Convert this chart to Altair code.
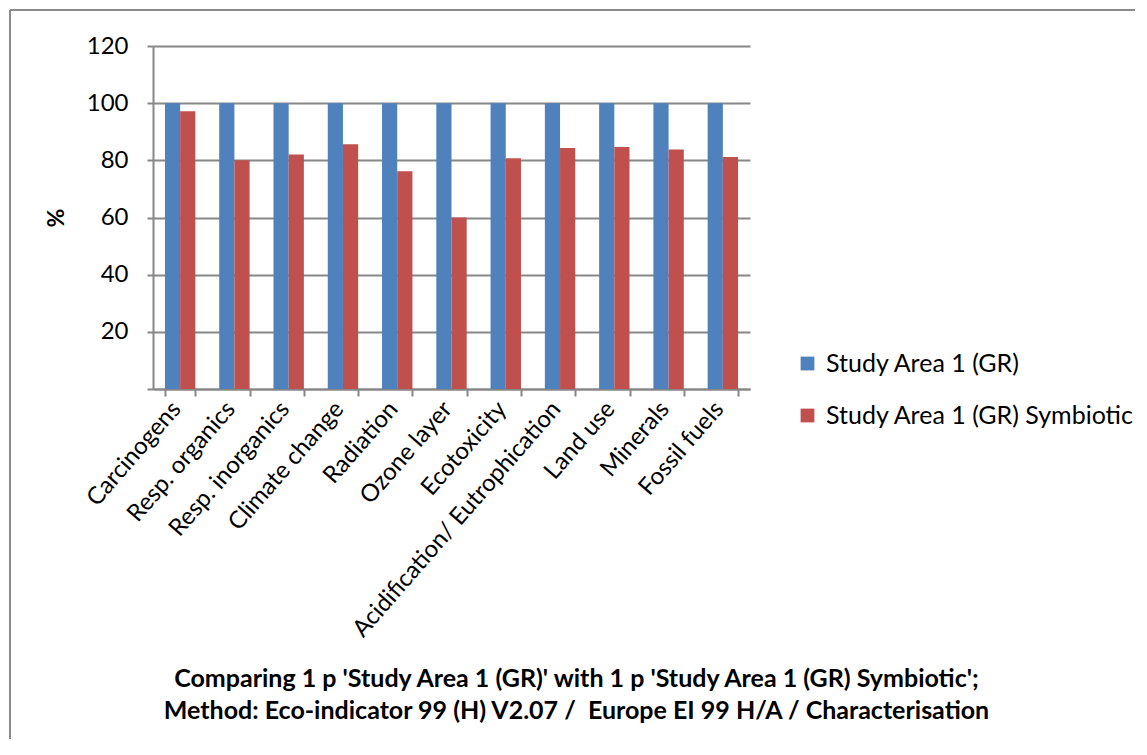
import altair as alt
import pandas as pd

categories = ["Carcinogens", "Resp. organics", "Resp. inorganics", "Climate change",
              "Radiation", "Ozone layer", "Ecotoxicity", "Acidification/ Eutrophication",
              "Land use", "Minerals", "Fossil fuels"]
series_names = ["Study Area 1 (GR)", "Study Area 1 (GR) Symbiotic"]
base_values = [100, 100, 100, 100, 100, 100, 100, 100, 100, 100, 100]
symb_values = [97.2, 80.0, 82.0, 85.6, 76.2, 60.0, 80.7, 84.3, 84.7, 83.8, 81.2]
colors = ["#4F81BD", "#C0504D"]

rows = []
for c, a, b in zip(categories, base_values, symb_values):
    rows.append({"cat": c, "series": series_names[0], "val": a})
    rows.append({"cat": c, "series": series_names[1], "val": b})
df = pd.DataFrame(rows)

GRID = "#878787"
FONT = "Lato"

bars = alt.Chart(df).mark_bar().encode(
    x=alt.X("cat:N", sort=categories,
            scale=alt.Scale(paddingInner=0.44, paddingOuter=0.22),
            axis=alt.Axis(title=None, labelAngle=-49, labelAlign="right", labelBaseline="top",
                          labelFontSize=24, labelColor="black", labelLimit=500,
                          labelFont=FONT, tickBand="extent", tickSize=7, tickColor=GRID,
                          tickWidth=2, domainColor=GRID, domainWidth=2, labelPadding=1,
                          labelOffset=-13, grid=False)),
    xOffset=alt.XOffset("series:N", sort=series_names,
                        scale=alt.Scale(paddingInner=0, paddingOuter=0)),
    y=alt.Y("val:Q", scale=alt.Scale(domain=[0, 120], nice=False),
            axis=alt.Axis(title="%", titleFontSize=23, titleFont=FONT, titleColor="black",
                          titleFontWeight="bold", titleAngle=-90, titlePadding=18,
                          values=[0, 20, 40, 60, 80, 100, 120],
                          labelExpr="datum.value == 0 ? '' : datum.label",
                          labelFontSize=24, labelFont=FONT, labelColor="black",
                          labelPadding=19, tickSize=6, tickColor=GRID, tickWidth=2,
                          gridColor=GRID, gridWidth=2, domainColor=GRID, domainWidth=2)),
    color=alt.Color("series:N", sort=series_names,
                    scale=alt.Scale(domain=series_names, range=colors),
                    legend=alt.Legend(title=None, orient="none", legendX=642, legendY=305,
                                      symbolType="square", symbolSize=190,
                                      symbolStrokeWidth=0, labelFontSize=25, labelLimit=500,
                                      labelFont=FONT, labelColor="black", rowPadding=26,
                                      labelOffset=6)),
)

frame_df = pd.DataFrame({"k": [0]})
frame_top = alt.Chart(frame_df).mark_rule(color="#8a8a8a", strokeWidth=2).encode(
    x=alt.value(-143), x2=alt.value(990), y=alt.value(-36)
)
frame_left = alt.Chart(frame_df).mark_rule(color="#8a8a8a", strokeWidth=2).encode(
    x=alt.value(-143), y=alt.value(-36), y2=alt.value(700)
)

chart = alt.layer(bars, frame_top, frame_left).properties(
    width=597,
    height=343,
    title=alt.Title(
        text=["Comparing 1 p 'Study Area 1 (GR)' with 1 p 'Study Area 1 (GR) Symbiotic';",
              "Method: Eco-indicator 99 (H) V2.07 / \u00a0Europe EI 99 H/A / Characterisation"],
        orient="bottom", anchor="middle", dx=125, offset=-80, fontSize=25,
        fontWeight="bold", font=FONT, color="black", lineHeight=32),
    padding={"left": 145, "top": 38, "right": 385, "bottom": 350},
    autosize=alt.AutoSizeParams(type="none"),
).configure_view(stroke=None)

chart.save("out.html", embed_options={"renderer": "svg", "actions": False})
